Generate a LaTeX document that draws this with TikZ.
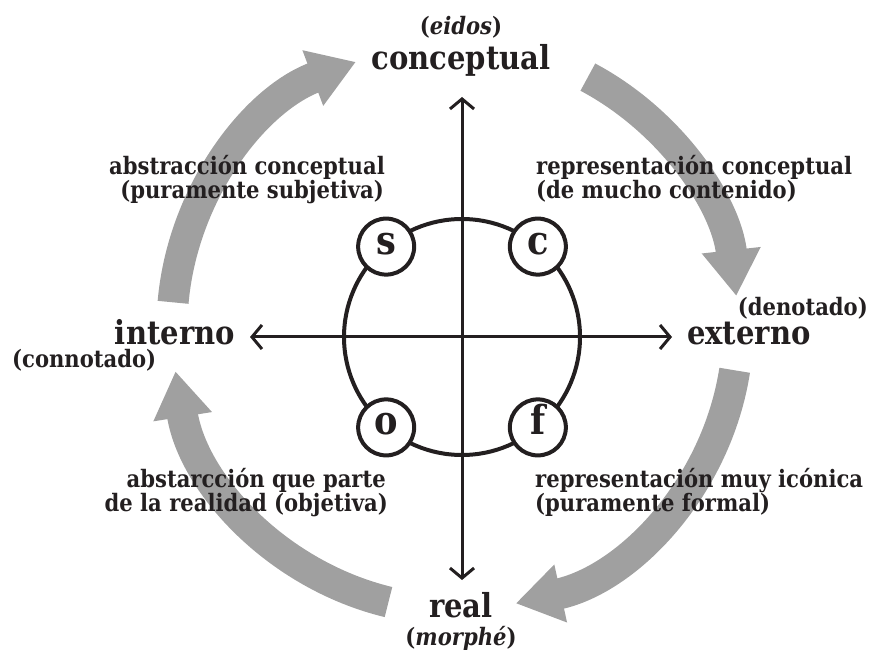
\documentclass[tikz,border=0pt]{standalone}
\usepackage{fontspec}
\setmainfont{DejaVu Serif}[FakeStretch=0.88]
\usetikzlibrary{arrows.meta}
\definecolor{ink}{RGB}{35,31,32}
\definecolor{flowgray}{RGB}{160,160,160}
\begin{document}
\begin{tikzpicture}[x=1pt,y=1pt,
  axisline/.style={line width=3pt, draw=ink, {Straight Barb[length=10pt,width=24pt]}-{Straight Barb[length=10pt,width=24pt]}},
  flow/.style={line width=31pt, draw=flowgray, -{Triangle[length=46pt,width=56pt]}},
  ring/.style={line width=4pt, draw=ink},
  letter/.style={circle, draw=ink, line width=4pt, fill=white, minimum size=56pt, inner sep=0pt, text=ink, text height=15pt, text depth=0pt, font=\fontsize{40}{40}\selectfont\bfseries},
  big/.style={font=\fontsize{33}{33}\selectfont\bfseries, inner sep=0pt, text=ink},
  small/.style={font=\fontsize{24}{24}\selectfont\bfseries, inner sep=0pt, text=ink},
  paren/.style={font=\fontsize{24}{24}\selectfont\bfseries, inner sep=0pt, text=ink}]
\useasboundingbox (0,0) rectangle (872,651);
% centres
\coordinate (C) at (455,324);
\coordinate (O) at (462,314);
% grey flow arrows
\draw[flow] ([shift={(175:283)}]C) arc[start angle=175, end angle=110.5, radius=283];
\draw[flow] ([shift={(62:283)}]C) arc[start angle=62, end angle=6.3, radius=283];
\draw[flow] ([shift={(-8.8:283)}]C) arc[start angle=-8.8, end angle=-77.6, radius=283];
\draw[flow] ([shift={(256.4:283)}]C) arc[start angle=256.4, end angle=189, radius=283];
% axes
\coordinate (top) at (462,554);
\coordinate (bottom) at (462,71);
\coordinate (left) at (250,314);
\coordinate (right) at (672,314);
\draw[axisline] (bottom) -- (top);
\draw[axisline] (left) -- (right);
% central circle
\draw[ring] (O) circle[radius=118];
\node[letter] (s) at ([shift={(130:118)}]O) {s};
\node[letter] (c) at ([shift={(50:118)}]O) {c};
\node[letter] (o) at ([shift={(230:118)}]O) {o};
\node[letter] (f) at ([shift={(310:118)}]O) {f};
% main labels
\node[paren, anchor=base] (eidos) at (461,616) {(\textit{eidos})};
\node[big, anchor=base] (conceptual) at (461,581) {conceptual};
\node[big, anchor=base west] (externo) at (687,306) {externo};
\node[paren, anchor=base east] (denotado) at (868,335) {(denotado)};
\node[big, anchor=base east] (interno) at (235,306) {interno};
\node[paren, anchor=base west] (connotado) at (12,283) {(connotado)};
\node[big, anchor=base] (real) at (461,34) {real};
\node[paren, anchor=base] (morphe) at (461,6) {(\textit{morphé})};
% arrow labels
\node[small, anchor=base east] (ac1) at (385,476) {abstracción conceptual};
\node[small, anchor=base east] (ac2) at (384,452) {(puramente subjetiva)};
\node[small, anchor=base west] (rc1) at (536,476) {representación conceptual};
\node[small, anchor=base west] (rc2) at (536,452) {(de mucho contenido)};
\node[small, anchor=base east] (aq1) at (386,164) {abstarcción que parte};
\node[small, anchor=base east] (aq2) at (388,140) {de la realidad (objetiva)};
\node[small, anchor=base west] (rm1) at (535,164) {representación muy icónica};
\node[small, anchor=base west] (rm2) at (535,140) {(puramente formal)};
\end{tikzpicture}
\end{document}
